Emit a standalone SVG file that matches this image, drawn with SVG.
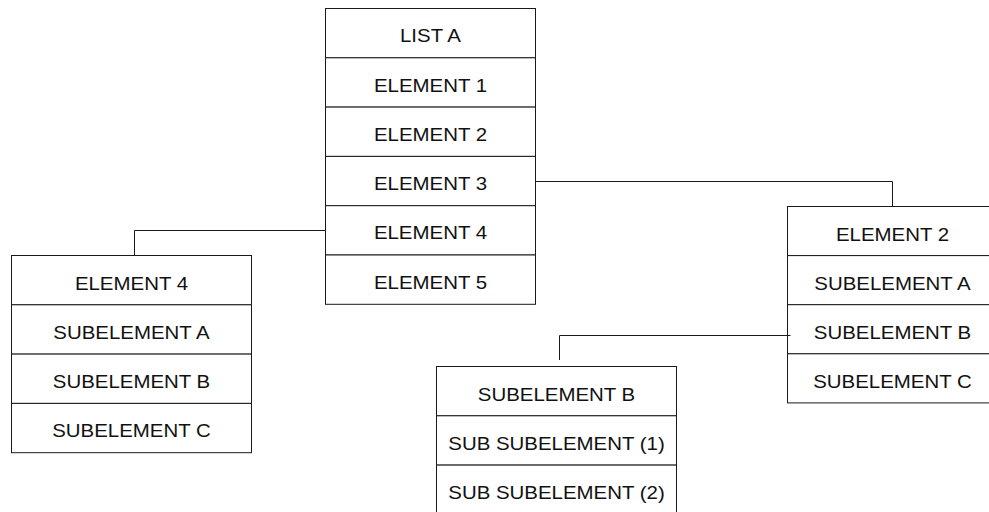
<svg xmlns="http://www.w3.org/2000/svg" width="989" height="512" viewBox="0 0 989 512">
  <style>
    .cell { fill: #ffffff; stroke: #1a1a1a; stroke-width: 1; }
    .label { font-family: "Liberation Sans", Arial, sans-serif; font-size: 17.7px; fill: #111111; text-anchor: middle;
             transform-box: fill-box; transform-origin: center; transform: scaleX(1.155); }
    .wire { fill: none; stroke: #1a1a1a; stroke-width: 1; }
  </style>
  <rect width="989" height="512" fill="#ffffff"/>

  <!-- main list -->
  <g id="list-a">
    <rect class="cell" x="325.5" y="8.5" width="210" height="49.3"/>
    <rect class="cell" x="325.5" y="57.8" width="210" height="49.3"/>
    <rect class="cell" x="325.5" y="107.1" width="210" height="49.3"/>
    <rect class="cell" x="325.5" y="156.4" width="210" height="49.3"/>
    <rect class="cell" x="325.5" y="205.7" width="210" height="49.3"/>
    <rect class="cell" x="325.5" y="255" width="210" height="49.3"/>
    <text class="label" x="430.5" y="42">LIST A</text>
    <text class="label" x="430.5" y="91.6">ELEMENT 1</text>
    <text class="label" x="430.5" y="140.9">ELEMENT 2</text>
    <text class="label" x="430.5" y="190.2">ELEMENT 3</text>
    <text class="label" x="430.5" y="239.5">ELEMENT 4</text>
    <text class="label" x="430.5" y="288.8">ELEMENT 5</text>
  </g>

  <!-- element 4 breakdown -->
  <g id="element-4">
    <rect class="cell" x="11.5" y="255.5" width="240" height="49.3"/>
    <rect class="cell" x="11.5" y="304.8" width="240" height="49.3"/>
    <rect class="cell" x="11.5" y="354.1" width="240" height="49.3"/>
    <rect class="cell" x="11.5" y="403.4" width="240" height="49.3"/>
    <text class="label" x="131.5" y="289.6">ELEMENT 4</text>
    <text class="label" x="131.5" y="338.9">SUBELEMENT A</text>
    <text class="label" x="131.5" y="388.2">SUBELEMENT B</text>
    <text class="label" x="131.5" y="437.5">SUBELEMENT C</text>
  </g>

  <!-- element 2 breakdown -->
  <g id="element-2">
    <rect class="cell" x="787.5" y="206.5" width="210" height="49.1"/>
    <rect class="cell" x="787.5" y="255.6" width="210" height="49.1"/>
    <rect class="cell" x="787.5" y="304.7" width="210" height="49.1"/>
    <rect class="cell" x="787.5" y="353.8" width="210" height="49.1"/>
    <text class="label" x="892.5" y="240.6">ELEMENT 2</text>
    <text class="label" x="892.5" y="289.7">SUBELEMENT A</text>
    <text class="label" x="892.5" y="338.8">SUBELEMENT B</text>
    <text class="label" x="892.5" y="387.9">SUBELEMENT C</text>
  </g>

  <!-- subelement B breakdown -->
  <g id="subelement-b">
    <rect class="cell" x="436.5" y="366.5" width="240" height="49.3"/>
    <rect class="cell" x="436.5" y="415.8" width="240" height="49.3"/>
    <rect class="cell" x="436.5" y="465.1" width="240" height="49.3"/>
    <text class="label" x="556.5" y="400.6">SUBELEMENT B</text>
    <text class="label" x="556.5" y="449.9">SUB SUBELEMENT (1)</text>
    <text class="label" x="556.5" y="499.2">SUB SUBELEMENT (2)</text>
  </g>

  <!-- connectors -->
  <g id="connectors">
    <path class="wire" d="M535.5 181.5 H892.5 V206.5"/>
    <path class="wire" d="M325.5 230.5 H134.5 V255.5"/>
    <path class="wire" d="M790.5 335.5 H559.5 V360"/>
  </g>
</svg>
